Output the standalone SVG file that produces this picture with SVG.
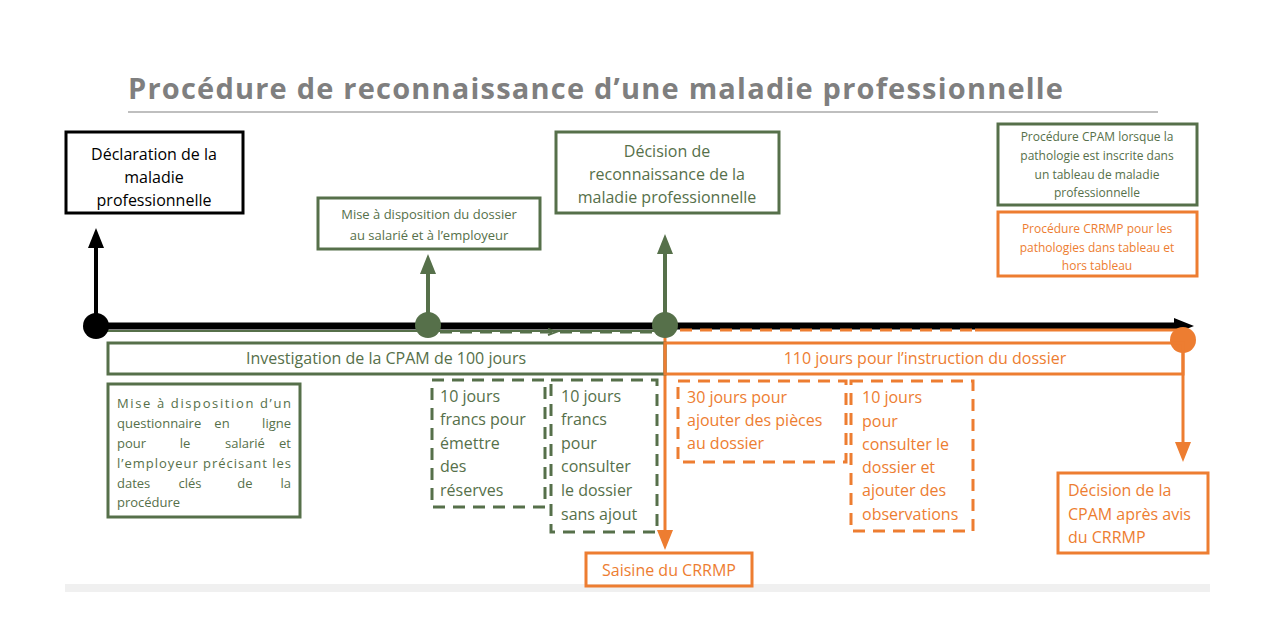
<svg xmlns="http://www.w3.org/2000/svg" width="1280" height="642" viewBox="0 0 1280 642">
<defs>
<style>
text{font-family:"Open Sans","Liberation Sans",sans-serif;}
.g{fill:none;stroke:#56704a;stroke-width:3}
.o{fill:none;stroke:#ed7d31;stroke-width:3}
.gd{fill:none;stroke:#56704a;stroke-width:3;stroke-dasharray:12 8}
.od{fill:none;stroke:#ed7d31;stroke-width:3;stroke-dasharray:12 8}
.tg{fill:#56704a}
.to{fill:#ed7d31}
.c{text-anchor:middle}
.e{text-anchor:end}
</style>
<marker id="ab" viewBox="0 0 20 16" markerWidth="20" markerHeight="16" refX="2" refY="8" orient="auto" markerUnits="userSpaceOnUse"><path d="M0,0 L20,8 L0,16z" fill="#000"/></marker>
<marker id="ag" viewBox="0 0 20 16" markerWidth="20" markerHeight="16" refX="2" refY="8" orient="auto" markerUnits="userSpaceOnUse"><path d="M0,0 L20,8 L0,16z" fill="#56704a"/></marker>
<marker id="ao" viewBox="0 0 20 16" markerWidth="20" markerHeight="16" refX="2" refY="8" orient="auto" markerUnits="userSpaceOnUse"><path d="M0,0 L20,8 L0,16z" fill="#ed7d31"/></marker>
</defs>
<rect width="1280" height="642" fill="#fff"/>
<rect x="65" y="584" width="1145" height="8" fill="#f0f0f0"/>
<text x="128" y="99" font-size="29" font-weight="bold" fill="#7f7f7f" textLength="935" lengthAdjust="spacing">Procédure de reconnaissance d’une maladie professionnelle</text>
<line x1="128" y1="112" x2="1158" y2="112" stroke="#bfbfbf" stroke-width="2"/>

<g id="connectors">
<line x1="96" y1="326" x2="1176" y2="326" stroke="#000" stroke-width="7" marker-end="url(#ab)"/>
<line x1="96" y1="331" x2="665" y2="331" stroke="#56704a" stroke-width="2"/>
<line x1="96" y1="324" x2="96" y2="246" stroke="#000" stroke-width="4" marker-end="url(#ab)"/>
<line x1="428" y1="324" x2="428" y2="272" stroke="#56704a" stroke-width="4" marker-end="url(#ag)"/>
<line x1="665" y1="324" x2="665" y2="252" stroke="#56704a" stroke-width="4" marker-end="url(#ag)"/>
<line x1="440" y1="332" x2="655" y2="332" class="gd"/>
<path d="M548,329 L556,332 L548,335" fill="none" stroke="#56704a" stroke-width="2"/>
<line x1="680" y1="330" x2="975" y2="330" class="od"/>
<line x1="975" y1="330" x2="1183" y2="330" class="o"/>
<line x1="665" y1="330" x2="665" y2="532" stroke="#ed7d31" stroke-width="3" marker-end="url(#ao)"/>
<line x1="1183" y1="340" x2="1183" y2="444" stroke="#ed7d31" stroke-width="3" marker-end="url(#ao)"/>
<circle cx="96" cy="326" r="13" fill="#000"/>
<circle cx="428" cy="325" r="13" fill="#56704a"/>
<circle cx="665" cy="325" r="13" fill="#56704a"/>
<circle cx="1183" cy="340" r="13" fill="#ed7d31"/>
</g>

<g id="declaration">
<rect x="66" y="132" width="177" height="81" fill="#fff" stroke="#000" stroke-width="3"/>
<text x="154" y="160" font-size="16" class="c">Déclaration de la</text>
<text x="154" y="183" font-size="16" class="c">maladie</text>
<text x="154" y="206" font-size="16" class="c">professionnelle</text>
</g>
<g id="mise-dossier">
<rect x="318" y="198" width="222" height="51" fill="#fff" class="g"/>
<text x="429" y="219" font-size="13" class="c tg">Mise à disposition du dossier</text>
<text x="429" y="240" font-size="13" class="c tg">au salarié et à l’employeur</text>
</g>
<g id="decision">
<rect x="556" y="132" width="223" height="81" fill="#fff" class="g"/>
<text x="667" y="157" font-size="16" class="c tg">Décision de</text>
<text x="667" y="180" font-size="16" class="c tg">reconnaissance de la</text>
<text x="667" y="203" font-size="16" class="c tg">maladie professionnelle</text>
</g>
<g id="legend-cpam">
<rect x="998" y="124" width="199" height="81" fill="#fff" class="g"/>
<text x="1097" y="141" font-size="12" class="c tg">Procédure CPAM lorsque la</text>
<text x="1097" y="160" font-size="12" class="c tg">pathologie est inscrite dans</text>
<text x="1097" y="179" font-size="12" class="c tg">un tableau de maladie</text>
<text x="1097" y="197" font-size="12" class="c tg">professionnelle</text>
</g>
<g id="legend-crrmp">
<rect x="998" y="212" width="199" height="64" fill="#fff" class="o"/>
<text x="1097" y="233" font-size="12" class="c to">Procédure CRRMP pour les</text>
<text x="1097" y="252" font-size="12" class="c to">pathologies dans tableau et</text>
<text x="1097" y="270" font-size="12" class="c to">hors tableau</text>
</g>
<g id="investigation">
<rect x="108" y="343" width="557" height="31" fill="#fff" class="g"/>
<text x="386" y="364" font-size="16" class="c tg">Investigation de la CPAM de 100 jours</text>
</g>
<g id="instruction">
<rect x="665" y="343" width="518" height="31" fill="#fff" class="o"/>
<text x="925" y="364" font-size="16" class="c to">110 jours pour l’instruction du dossier</text>
</g>
<g id="questionnaire">
<rect x="108" y="384" width="192" height="133" fill="#fff" class="g"/>
<g font-size="13" class="tg">
<text x="117" y="408" textLength="174" lengthAdjust="spacing">Mise à disposition d’un</text>
<text x="117" y="428">questionnaire</text><text x="222" y="428" class="c">en</text><text x="291" y="428" class="e">ligne</text>
<text x="117" y="448">pour</text><text x="185" y="448" class="c">le</text><text x="245" y="448" class="c">salarié</text><text x="291" y="448" class="e">et</text>
<text x="117" y="468" textLength="174" lengthAdjust="spacing">l’employeur précisant les</text>
<text x="117" y="488">dates</text><text x="190" y="488" class="c">clés</text><text x="245" y="488" class="c">de</text><text x="291" y="488" class="e">la</text>
<text x="117" y="507">procédure</text>
</g>
</g>
<g id="reserves">
<rect x="432" y="380" width="113" height="127" class="gd"/>
<g font-size="16" class="tg">
<text x="440" y="402">10 jours</text>
<text x="440" y="425">francs pour</text>
<text x="440" y="449">émettre</text>
<text x="440" y="472">des</text>
<text x="440" y="496">réserves</text>
</g>
</g>
<g id="consulter-sans-ajout">
<rect x="551" y="380" width="106" height="152" class="gd"/>
<g font-size="16" class="tg">
<text x="561" y="402">10 jours</text>
<text x="561" y="425">francs</text>
<text x="561" y="449">pour</text>
<text x="561" y="472">consulter</text>
<text x="561" y="496">le dossier</text>
<text x="561" y="520">sans ajout</text>
</g>
</g>
<g id="ajouter-pieces">
<rect x="678" y="381" width="168" height="81" class="od"/>
<g font-size="16" class="to">
<text x="687" y="403">30 jours pour</text>
<text x="687" y="426">ajouter des pièces</text>
<text x="687" y="449">au dossier</text>
</g>
</g>
<g id="observations">
<rect x="851" y="381" width="122" height="150" class="od"/>
<g font-size="16" class="to">
<text x="862" y="403">10 jours</text>
<text x="862" y="427">pour</text>
<text x="862" y="450">consulter le</text>
<text x="862" y="473">dossier et</text>
<text x="862" y="496">ajouter des</text>
<text x="862" y="520">observations</text>
</g>
</g>
<g id="saisine">
<rect x="586" y="553" width="166" height="33" fill="#fff" class="o"/>
<text x="669" y="576" font-size="16" class="c to">Saisine du CRRMP</text>
</g>
<g id="decision-cpam">
<rect x="1058" y="473" width="150" height="80" fill="#fff" class="o"/>
<g font-size="16" class="to">
<text x="1068" y="496">Décision de la</text>
<text x="1068" y="520">CPAM après avis</text>
<text x="1068" y="543">du CRRMP</text>
</g>
</g>
</svg>
